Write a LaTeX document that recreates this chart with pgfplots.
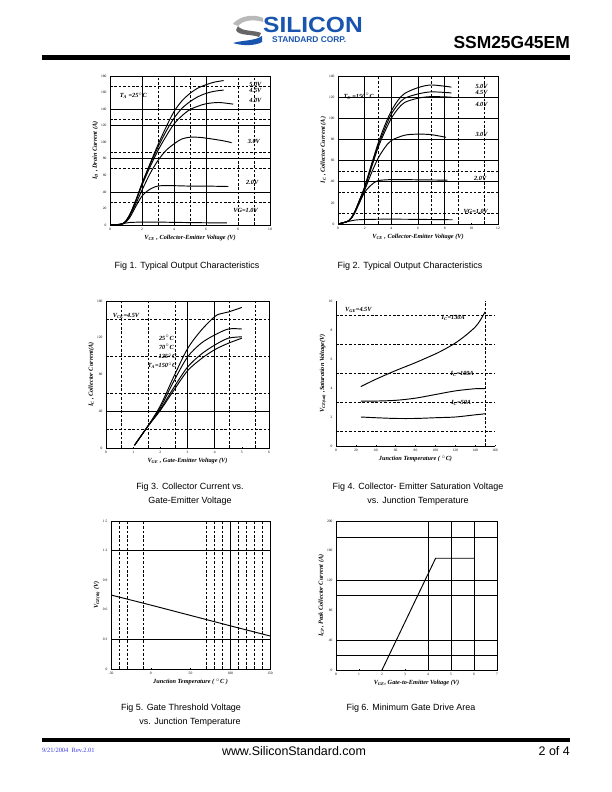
\documentclass[border=0pt]{standalone}
\usepackage{fontspec}
\setmainfont{Liberation Serif}
\newfontfamily\sans{Liberation Sans}
\usepackage{pgfplots}
\pgfplotsset{compat=1.18}
\definecolor{logoblue}{RGB}{25,85,175}
\definecolor{dateblue}{RGB}{60,60,230}
\tikzset{
  gsol/.style={line width=0.6pt},
  gdash/.style={line width=0.6pt, dash pattern=on 2.6pt off 1.8pt}
}
\pgfplotsset{
  ds/.style={scale only axis, axis line style={line width=0.9pt},
    tick style={black, line width=0.4pt}, major tick length=1.5pt, tick align=inside,
    xtick pos=left, ytick pos=left,
    tick label style={font=\fontsize{3.6}{4}\selectfont},
    /pgf/number format/assume math mode=true,
    label style={font=\fontsize{6.3}{7}\selectfont\bfseries\itshape},
    xlabel style={yshift=3pt},
    ylabel style={yshift=-4pt}},
  cv/.style={black, solid, line width=0.95pt, mark=none, smooth}
}
\newcommand{\vl}[2]{\draw[#1] ({axis cs:#2,0}|-{rel axis cs:0,0}) -- ({axis cs:#2,0}|-{rel axis cs:0,1});}
\newcommand{\hl}[2]{\draw[#1] ({rel axis cs:0,0}|-{axis cs:0,#2}) -- ({rel axis cs:1,0}|-{axis cs:0,#2});}
\begin{document}
\begin{tikzpicture}
\fill[white] (0,0) rectangle (612bp,-792bp);
\useasboundingbox (0,0) rectangle (612bp,-792bp);
\begin{scope}[x=1bp,y=-1bp]
% header
\fill[gray!55] (233,24) .. controls (240,15) and (255,14) .. (263,18) -- (263,22) .. controls (254,19) and (243,20) .. (238,26) -- cycle;
\fill[gray!80!black] (238,26) .. controls (242,32) and (255,30) .. (261,33) -- (259,37) .. controls (252,34) and (238,36) .. (236,30) -- cycle;
\fill[logoblue] (233,43) .. controls (243,40) and (255,41) .. (262,36) -- (262,42) .. controls (255,46) and (242,46) .. (233,43) -- cycle;
\node[anchor=base west, inner sep=0, xscale=1.12, font=\sans\bfseries\fontsize{22}{22}\selectfont, text=logoblue] at (263,32) {SILICON};
\node[anchor=base west, inner sep=0, font=\sans\bfseries\fontsize{8.4}{9}\selectfont, text=logoblue] at (272,42.3) {STANDARD CORP.};
\node[anchor=base east, inner sep=0, font=\sans\bfseries\fontsize{17.5}{18}\selectfont] at (570,48.5) {SSM25G45EM};
\fill[black] (42,55) rectangle (570,59.5);
% footer
\fill[black] (42,737.5) rectangle (570,741.5);
\node[anchor=base west, inner sep=0, font=\fontsize{6.5}{7}\selectfont, text=dateblue] at (42,752) {9/21/2004\ \ Rev.2.01};
\node[anchor=base, inner sep=0, font=\sans\fontsize{12.5}{13}\selectfont] at (294,755) {www.SiliconStandard.com};
\node[anchor=base east, inner sep=0, font=\sans\fontsize{12.5}{13}\selectfont] at (570,755) {2 of 4};
% captions
\begin{scope}[every node/.style={anchor=base, inner sep=0, font=\sans\fontsize{9}{10}\selectfont}]
\node at (187,268) {Fig 1. Typical Output Characteristics};
\node at (410,268) {Fig 2. Typical Output Characteristics};
\node at (190,489) {Fig 3. Collector Current vs.};
\node at (190,503) {Gate-Emitter Voltage};
\node at (418,489) {Fig 4. Collector- Emitter Saturation Voltage};
\node at (418,503) {vs. Junction Temperature};
\node at (181,710) {Fig 5. Gate Threshold Voltage};
\node at (190,724) {vs. Junction Temperature};
\node at (411,710) {Fig 6. Minimum Gate Drive Area};
\end{scope}
\end{scope}

% ---------- Fig 1
\begin{axis}[ds, at={(110bp,-225bp)}, anchor=south west, width=160bp, height=149bp,
  xmin=0, xmax=10, ymin=0, ymax=180, xtick={0,2,...,10}, ytick={0,20,...,180},
  xlabel={V\textsubscript{CE} , Collector-Emitter Voltage (V)},
  ylabel={I\textsubscript{D} , Drain Current (A)}]
\hl{gsol}{40}\hl{gsol}{80}\hl{gsol}{120}\hl{gsol}{140}
\hl{gdash}{28}\hl{gdash}{68}\hl{gdash}{88}\hl{gdash}{128}\hl{gdash}{168}
\vl{gsol}{2}\vl{gsol}{4}\vl{gsol}{6}
\vl{gdash}{3}\vl{gdash}{5}\vl{gdash}{8}\vl{gdash}{9}
\addplot[cv] coordinates {(0,0)(0.5,0.6)(0.8,1.5)(1.2,3)(2,3.5)(3,3.5)(4,3.2)(5.5,2.8)(7.3,2.5)};
\addplot[cv] coordinates {(0,0)(0.8,1.5)(1.2,8)(1.6,22)(2,35)(2.4,42)(2.8,46)(3.2,47.5)(4,47.5)(5,47)(6,47)(7.4,46.5)};
\addplot[cv] coordinates {(0,0)(0.8,1.5)(1.2,10)(1.6,25)(2,42)(2.5,62)(3,78)(3.5,90)(4,98)(4.5,104)(5,106)(5.5,106)(6,105)(7,102)(7.6,99.5)};
\addplot[cv] coordinates {(0,0)(0.8,1.5)(1.2,11)(1.6,28)(2,48)(2.5,70)(3,90)(3.5,107)(4,122)(4.5,132)(5,139.5)(5.5,143.5)(6,146.5)(6.8,148)(7.7,146)};
\addplot[cv] coordinates {(0,0)(0.8,1.5)(1.2,11)(1.6,29)(2,50)(2.5,73)(3,94)(3.5,113)(4,129)(4.5,141)(5,149)(5.5,155)(6,159)(6.5,161.5)(7.1,163)};
\addplot[cv] coordinates {(0,0)(0.8,1.5)(1.2,11)(1.6,29)(2,50)(2.5,74)(3,97)(3.5,118)(4,137)(4.5,150)(5,159)(5.5,165.5)(6,169.5)(6.5,172.5)(7.1,174.5)};
\begin{scope}[every node/.style={font=\fontsize{6.3}{7}\selectfont\bfseries\itshape, inner sep=0}]
\node[anchor=west] at (axis cs:8.7,170) {5.0V};
\node[anchor=west] at (axis cs:8.7,162) {4.5V};
\node[anchor=west] at (axis cs:8.7,151) {4.0V};
\node[anchor=west] at (axis cs:8.6,101) {3.0V};
\node[anchor=west] at (axis cs:8.5,51) {2.0V};
\node[anchor=west] at (axis cs:7.7,17) {VG=1.0V};
\node[anchor=west] at (axis cs:0.6,156) {T\textsubscript{A} =25$^\circ$C};
\end{scope}
\end{axis}

% ---------- Fig 2
\begin{axis}[ds, at={(338bp,-224bp)}, anchor=south west, width=160bp, height=148bp,
  xmin=0, xmax=12, ymin=0, ymax=140, xtick={0,2,...,12}, ytick={0,20,...,140},
  xlabel={V\textsubscript{CE} , Collector-Emitter Voltage (V)},
  ylabel={I\textsubscript{C} , Collector Current (A)}]
\hl{gsol}{40}\hl{gsol}{60}\hl{gsol}{80}\hl{gsol}{100}\hl{gsol}{120}
\hl{gdash}{10}\hl{gdash}{30}\hl{gdash}{50}
\vl{gsol}{2}\vl{gsol}{4}\vl{gsol}{6}\vl{gsol}{8}
\vl{gdash}{3}\vl{gdash}{7}\vl{gdash}{9}\vl{gdash}{11}
\addplot[cv] coordinates {(0,0)(0.8,2.5)(1.5,4)(3,4.5)(5,4.5)(8.6,4)};
\addplot[cv] coordinates {(0,0)(0.8,3)(1.2,10)(1.6,20)(2,30)(2.5,37)(3,41)(4,42)(5,42)(6,41.8)(8.2,41.5)};
\addplot[cv] coordinates {(0,0)(0.8,3)(1.2,9)(1.6,20)(2,32)(2.5,48)(3,62)(3.5,72)(4,79)(5,84)(6,85)(7,84.5)(8.1,82)};
\addplot[cv] coordinates {(0,0)(0.8,3)(1.2,10)(1.6,22)(2,34)(2.5,53)(3,72)(3.5,87)(4,100)(4.5,109)(5,115)(6,119)(7,120.5)(8.5,120)};
\addplot[cv] coordinates {(0,0)(0.8,3)(1.2,10)(1.6,22)(2,35)(2.5,55)(3,74)(3.5,90)(4,104)(4.5,113)(5,119)(6,123)(7,125)(8.5,124)};
\addplot[cv] coordinates {(0,0)(0.8,3)(1.2,10)(1.6,22)(2,35)(2.5,56)(3,76)(3.5,93)(4,107)(4.5,117)(5,123.5)(6,129)(7,131.5)(8.5,129.5)};
\begin{scope}[every node/.style={font=\fontsize{6.3}{7}\selectfont\bfseries\itshape, inner sep=0}]
\node[anchor=west] at (axis cs:10.3,130) {5.0V};
\node[anchor=west] at (axis cs:10.3,124) {4.5V};
\node[anchor=west] at (axis cs:10.3,113) {4.0V};
\node[anchor=west] at (axis cs:10.3,85) {3.0V};
\node[anchor=west] at (axis cs:10.2,43) {2.0V};
\node[anchor=west] at (axis cs:9.4,12) {VG=1.0V};
\node[anchor=west] at (axis cs:0.4,121) {T\textsubscript{C} =150$^\circ$C};
\end{scope}
\end{axis}

% ---------- Fig 3
\begin{axis}[ds, at={(106bp,-448bp)}, anchor=south west, width=163bp, height=147bp,
  xmin=0, xmax=6, ymin=0, ymax=160, xtick={0,1,...,6}, ytick={0,40,...,160},
  xlabel={V\textsubscript{GE} , Gate-Emitter Voltage (V)},
  ylabel={I\textsubscript{C} , Collector Current(A)}]
\hl{gsol}{40}
\hl{gdash}{20}\hl{gdash}{60}\hl{gdash}{100}\hl{gdash}{140}
\vl{gsol}{3}\vl{gsol}{4}
\vl{gdash}{0.55}\vl{gdash}{1.55}\vl{gdash}{2.55}\vl{gdash}{4.55}\vl{gdash}{5.5}
\addplot[cv] coordinates {(1.05,3)(1.5,22)(2,46)(2.5,78)(3,108)(3.5,128)(4,143)(4.2,146)(4.5,148)(5,153)};
\addplot[cv] coordinates {(1.05,3)(1.5,22)(2,44)(2.5,73)(3,99)(3.5,114)(4,123)(4.5,129.5)(5,129.5)};
\addplot[cv] coordinates {(1.05,3)(1.5,22)(2,42)(2.5,66)(3,88)(3.5,102)(4,112)(4.5,119.5)(5,121)};
\addplot[cv] coordinates {(1.05,3)(1.5,22)(2,41)(2.5,63)(3,84)(3.5,97)(4,107)(4.5,114)(5,119.5)};
\begin{scope}[every node/.style={font=\fontsize{6.3}{7}\selectfont\bfseries\itshape, inner sep=0}]
\node[anchor=west] at (axis cs:0.25,144) {V\textsubscript{CE}=4.5V};
\node[anchor=east] at (axis cs:2.5,120) {25$^\circ$C};
\node[anchor=east] at (axis cs:2.5,110) {70$^\circ$C};
\node[anchor=east] at (axis cs:2.6,100) {125$^\circ$C};
\node[anchor=east] at (axis cs:2.6,89.5) {T\textsubscript{A}=150$^\circ$C};
\end{scope}
\end{axis}

% ---------- Fig 4
\begin{axis}[ds, at={(336bp,-446bp)}, anchor=south west, width=159bp, height=145bp,
  axis lines*=left, xmin=0, xmax=160, ymin=0, ymax=10, xtick={0,20,...,160}, ytick={0,2,...,10},
  xlabel={Junction Temperature ( $^\circ$C)},
  ylabel={V\textsubscript{CE(sat)} ,Saturation Voltage(V)}]
\hl{gdash}{1}\hl{gdash}{3}\hl{gdash}{5}\hl{gdash}{7}\hl{gdash}{9}
\vl{gdash}{150}
\addplot[cv] coordinates {(25,4.1)(40,4.6)(60,5.2)(80,5.75)(100,6.35)(110,6.7)(120,7.1)(130,7.6)(140,8.2)(145,8.65)(150,9.25)};
\addplot[cv] coordinates {(25,3.1)(40,3.1)(60,3.15)(80,3.3)(100,3.55)(120,3.8)(140,3.95)(150,3.95)};
\addplot[cv] coordinates {(25,2.0)(40,1.95)(60,1.9)(80,1.9)(100,1.95)(120,2.0)(140,2.15)(150,2.22)};
\begin{scope}[every node/.style={font=\fontsize{6.3}{7}\selectfont\bfseries\itshape, inner sep=0}]
\node[anchor=west] at (axis cs:9,9.35) {V\textsubscript{GE}=4.5V};
\node at (axis cs:118,8.85) {I\textsubscript{C}=130A};
\node at (axis cs:127,4.97) {I\textsubscript{C}=100A};
\node at (axis cs:126,3.0) {I\textsubscript{C}=50A};
\end{scope}
\end{axis}

% ---------- Fig 5
\begin{axis}[ds, at={(111bp,-669bp)}, anchor=south west, width=159bp, height=148bp,
  xmin=-50, xmax=150, ymin=0, ymax=1.5, xtick={-50,0,...,150}, ytick={0,0.3,...,1.5},
  yticklabel style={/pgf/number format/fixed, /pgf/number format/precision=1},
  xlabel={Junction Temperature ( $^\circ$C )},
  ylabel={V\textsubscript{GE(th)} (V)}]
\hl{gsol}{0.3}\hl{gsol}{1.2}
\vl{gsol}{100}
\vl{gdash}{-40}\vl{gdash}{-30}\vl{gdash}{-10}\vl{gdash}{70}\vl{gdash}{80}\vl{gdash}{90}
\vl{gdash}{110}\vl{gdash}{120}\vl{gdash}{130}\vl{gdash}{140}
\addplot[cv] coordinates {(-50,0.75)(0,0.648)(50,0.543)(100,0.438)(150,0.335)};
\end{axis}

% ---------- Fig 6
\begin{axis}[ds, at={(336bp,-670bp)}, anchor=south west, width=161bp, height=149bp,
  xmin=0, xmax=7, ymin=0, ymax=200, xtick={0,1,...,7}, ytick={0,40,...,200},
  xlabel={V\textsubscript{GE}, Gate-to-Emitter Voltage (V)},
  ylabel={I\textsubscript{CP}, Peak Collector Current (A)}]
\hl{gsol}{20}\hl{gsol}{40}\hl{gsol}{100}\hl{gsol}{120}\hl{gsol}{178}
\vl{gsol}{4}\vl{gsol}{5}\vl{gsol}{6}
\addplot[cv, sharp plot] coordinates {(2,0)(4.33,150)(6,150)};
\end{axis}
\end{tikzpicture}
\end{document}
